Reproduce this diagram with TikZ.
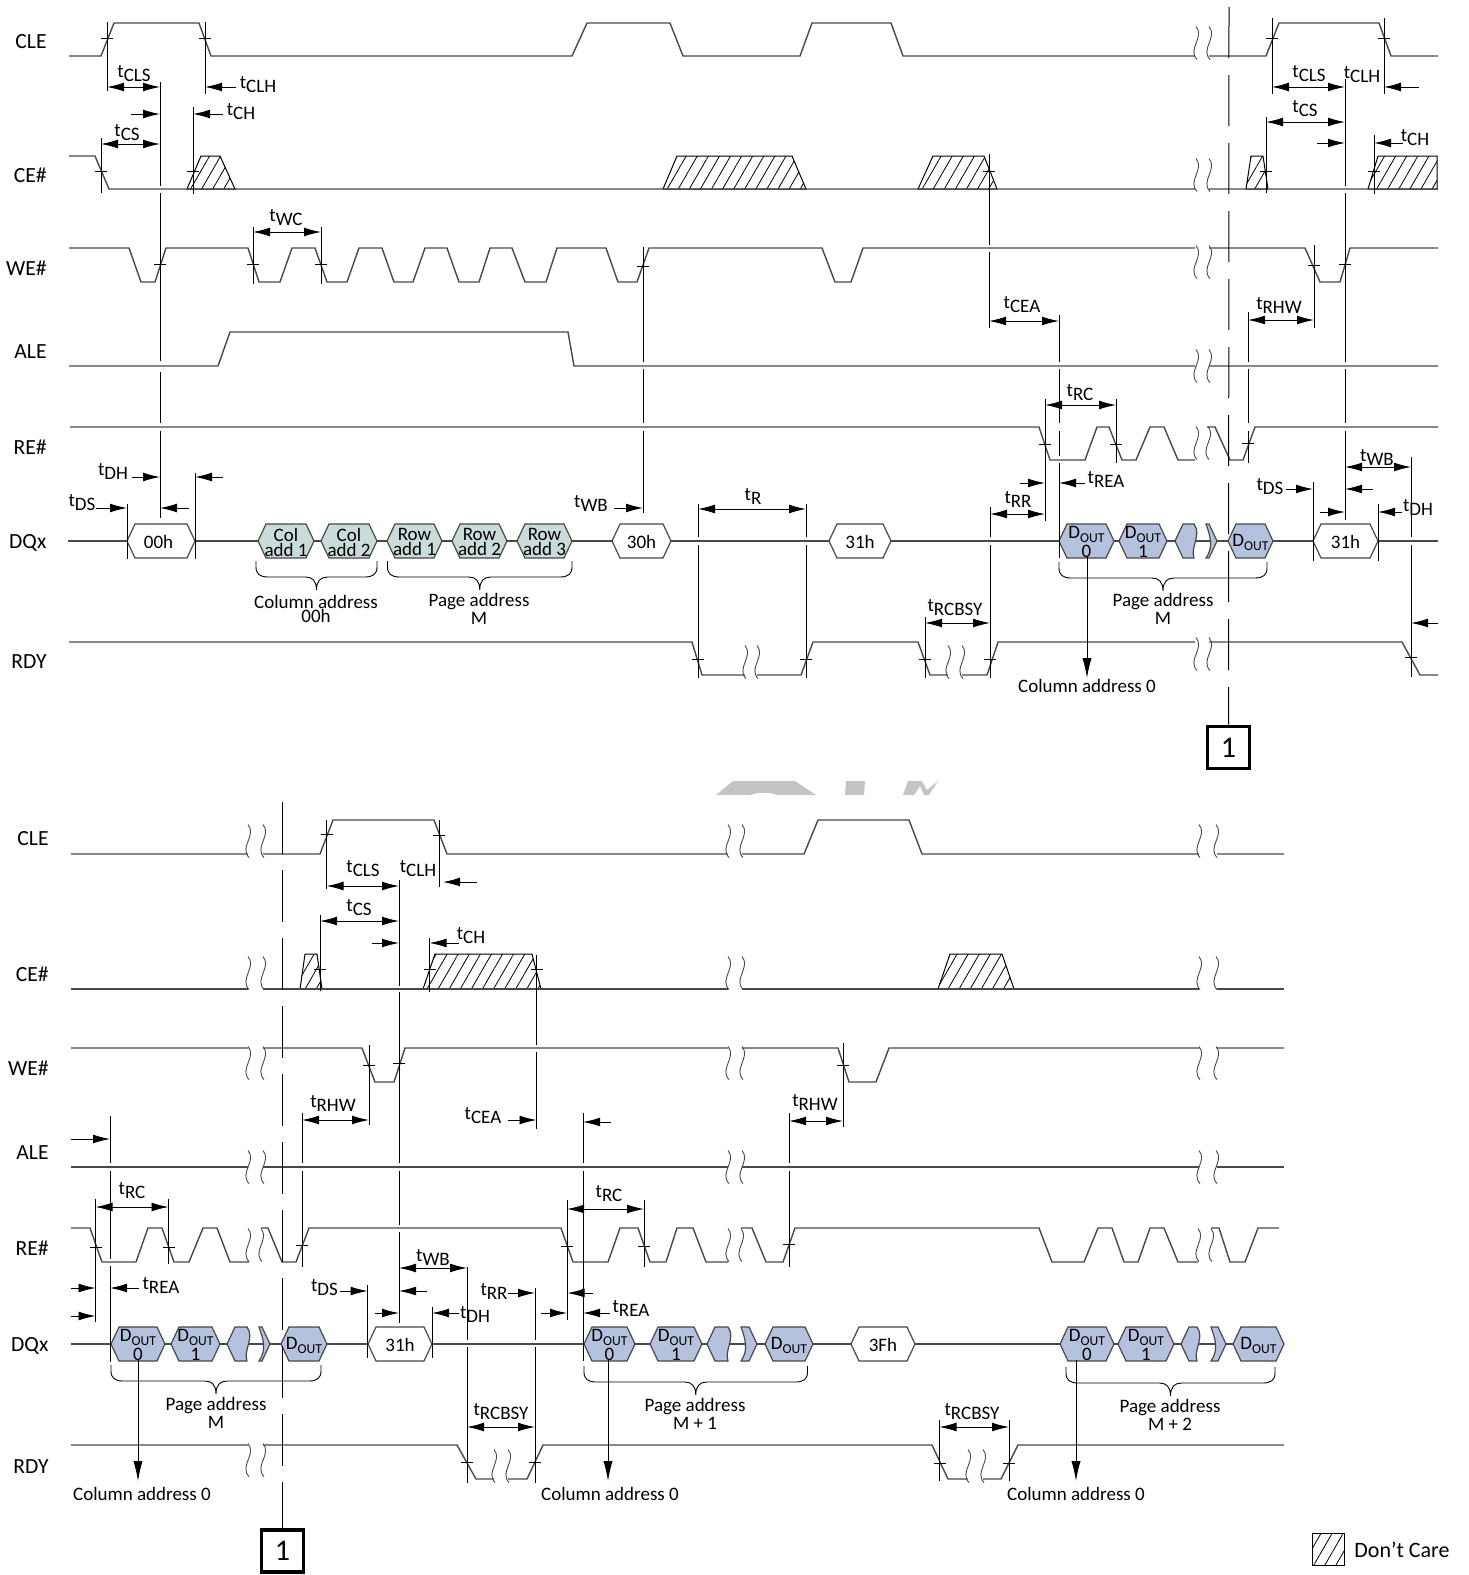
\documentclass[tikz,border=0pt]{standalone}
\usepackage{fontspec}
\setmainfont{Carlito}
\usepackage{tikz}
\usetikzlibrary{arrows.meta}
\usetikzlibrary{patterns.meta}
\definecolor{sigline}{HTML}{484848}
\definecolor{hexteal}{HTML}{C9DCDA}
\definecolor{hexblue}{HTML}{B4C2DD}
\definecolor{markgray}{HTML}{C4C4C4}
\tikzset{
  every node/.style={inner sep=0pt,align=center,font=\fontsize{9.5}{7.3}\selectfont},
  sig/.style={draw=sigline,line width=.7pt},
  guide/.style={draw=black,line width=.45pt},
  cutline/.style={draw=black,line width=.5pt},
  siglabel/.style={anchor=east,font=\fontsize{10.8}{12}\selectfont},
  hexbox/.style={draw=sigline,line width=.6pt,fill=white},
  hextext/.style={font=\fontsize{9.5}{7.5}\selectfont},
  dbox/.style={draw=sigline,line width=.6pt,fill=hexblue},
  abox/.style={draw=sigline,line width=.6pt,fill=hexteal},
  dontcare/.style={draw=black,line width=.5pt,pattern={Lines[angle=60,distance=4.8pt,line width=.4pt]}},
  wave/.style={draw=sigline,line width=.45pt},
  grp/.style={draw=black,line width=.45pt},
  colarr/.style={draw=black,line width=.5pt,-{Latex[length=10pt,width=4.6pt]}},
  notebox/.style={draw=black,line width=1.8pt,minimum size=21pt,fill=white,font=\fontsize{15}{15}\selectfont}
}
\newcommand{\tsub}[1]{t\lower2pt\hbox{#1}}
\newcommand{\dout}{D\lower2pt\hbox{\fontsize{6.8}{7}\selectfont OUT}}
\newcommand{\tck}[2]{\draw[guide] (#1-6,#2) -- (#1+6,#2);}
\newcommand{\brk}[3]{%
  \draw[wave] (#1,#3-16.5) .. controls (#1+9,#3-6) and (#1-9,#3+6) .. (#1+1,#3+16.5);
  \draw[wave] (#2,#3-16.5) .. controls (#2+9,#3-6) and (#2-9,#3+6) .. (#2+1,#3+16.5);}
\newcommand{\hexa}[6]{%
  \draw[#5] (#2,#4) -- (#2+8,#4-17) -- (#3-8,#4-17) -- (#3,#4) -- (#3-8,#4+17) -- (#2+8,#4+17) -- cycle;
  \node[hextext] (#1) at ({(#2+#3)/2},#4+1) {#6};}
\newcommand{\hexl}[3]{\draw[dbox] (#2-2,#3+17) -- (#1+8,#3+17) -- (#1,#3) -- (#1+8,#3-17) -- (#2-2,#3-17) .. controls (#2+6,#3-6) and (#2-6,#3+6) .. cycle;}
\newcommand{\hexr}[3]{\draw[dbox] (#1,#3-17) -- (#2-8,#3-17) -- (#2,#3) -- (#2-8,#3+17) -- (#1,#3+17) .. controls (#1+8,#3+6) and (#1+4,#3-6) .. cycle;}
\newcommand{\grpbrace}[3]{\draw[grp] (#1,#3) -- (#1,#3+6) .. controls (#1,#3+13) and (#1+4,#3+16) .. (#1+12,#3+16) -- ({(#1+#2)/2-11},#3+16) .. controls ({(#1+#2)/2-4},#3+16) and ({(#1+#2)/2},#3+20) .. ({(#1+#2)/2},#3+29) .. controls ({(#1+#2)/2},#3+20) and ({(#1+#2)/2+4},#3+16) .. ({(#1+#2)/2+11},#3+16) -- (#2-12,#3+16) .. controls (#2-4,#3+16) and (#2,#3+13) .. (#2,#3+6) -- (#2,#3);}

\begin{document}
\begin{tikzpicture}[x=.5pt,y=-.5pt,>={Latex[length=8.5pt,width=4.4pt]}]
\useasboundingbox (0,0) rectangle (1468,1575);

\fill[markgray] (716,795) -- (733,781) -- (795,781) -- (816,795) -- (777,795) .. controls (770,792) and (758,792) .. (750,795) -- cycle;
\fill[markgray] (846,781) -- (865,781) -- (864,795) -- (845,795) -- cycle;
\fill[markgray] (908,781) -- (922,781) -- (927,790) -- (938,781) -- (929,795) -- (924,795) -- (920,786) -- (914,795) -- (903,795) -- cycle;

\node[siglabel] (cleA) at (47,42) {CLE};
\node[siglabel] (ceA) at (47,175) {CE\#};
\node[siglabel] (weA) at (47,268) {WE\#};
\node[siglabel] (aleA) at (47,352) {ALE};
\node[siglabel] (reA) at (47,447) {RE\#};
\node[siglabel] (dqA) at (47,543) {DQx};
\node[siglabel] (rdyA) at (47,662) {RDY};
\node[siglabel] (cleB) at (49,839) {CLE};
\node[siglabel] (ceB) at (49,974) {CE\#};
\node[siglabel] (weB) at (49,1068) {WE\#};
\node[siglabel] (aleB) at (49,1153) {ALE};
\node[siglabel] (reB) at (49,1248) {RE\#};
\node[siglabel] (dqB) at (49,1346) {DQx};
\node[siglabel] (rdyB) at (49,1467) {RDY};

\draw[dontcare] (187,189) -- (201,156) -- (220,156) -- (235,189) -- cycle;
\draw[dontcare] (663,189) -- (677,156) -- (792,156) -- (806,189) -- cycle;
\draw[dontcare] (918,189) -- (933,156) -- (984,156) -- (997,189) -- cycle;
\draw[dontcare] (1246,189) -- (1251,156) -- (1263,156) -- (1268,189) -- cycle;
\draw[dontcare] (1368,189) -- (1378,156) -- (1437,156) -- (1437,189) -- cycle;
\draw[dontcare] (300,989) -- (305,954) -- (317,954) -- (322,989) -- cycle;
\draw[dontcare] (423,989) -- (435,954) -- (532,954) -- (541,989) -- cycle;
\draw[dontcare] (938,989) -- (950,954) -- (1002,954) -- (1014,989) -- cycle;

\draw[sig] (69,56) -- (101,56) -- (114,23) -- (199,23) -- (211,56) -- (572,56) -- (587,23) -- (670,23) -- (683,56) -- (800,56) -- (812,23) -- (891,23) -- (903,56) -- (1195,56) (1209,56) -- (1266,56) -- (1279,23) -- (1379,23) -- (1391,56) -- (1438,56);
\draw[sig] (69,156) -- (95,156) -- (109,189) -- (1195,189) (1209,189) -- (1438,189);
\draw[sig] (69,248) -- (129,248) -- (141,282) -- (155,282) -- (166,248) -- (248,248) -- (259,282) -- (280,282) -- (292,248) -- (315,248) -- (327,282) -- (347,282) -- (359,248) -- (382,248) -- (394,282) -- (413,282) -- (425,248) -- (447,248) -- (459,282) -- (479,282) -- (490,248) -- (512,248) -- (525,282) -- (546,282) -- (557,248) -- (606,248) -- (618,282) -- (637,282) -- (649,248) -- (822,248) -- (835,282) -- (851,282) -- (863,248) -- (1195,248) (1209,248) -- (1305,248) -- (1320,282) -- (1340,282) -- (1350,248) -- (1438,248);
\draw[sig] (69,366) -- (218,366) -- (230,332) -- (568,332) -- (574,366) -- (1195,366) (1209,366) -- (1438,366);
\draw[sig] (70,427) -- (1039,427) -- (1050,460) -- (1085,460) -- (1097,427) -- (1109,427) -- (1122,460) -- (1136,460) -- (1150,427) -- (1164,427) -- (1178,460) -- (1195,460) (1207,427) -- (1215,427) -- (1230,460) -- (1243,460) -- (1255,427) -- (1438,427);
\draw[sig] (69,642) -- (692,642) -- (702,675) -- (745,675) (757,675) -- (801,675) -- (813,642) -- (918,642) -- (930,675) -- (948,675) (962,675) -- (987,675) -- (998,642) -- (1195,642) (1209,642) -- (1402,642) -- (1420,675) -- (1438,675);

\draw[sig] (71,854) -- (248,854) (263,854) -- (320,854) -- (333,820) -- (434,820) -- (447,854) -- (728,854) (742,854) -- (804,854) -- (818,820) -- (909,820) -- (922,854) -- (1199,854) (1217,854) -- (1284,854);
\draw[sig] (71,989) -- (248,989) (263,989) -- (728,989) (742,989) -- (1199,989) (1217,989) -- (1284,989);
\draw[sig] (71,1048) -- (248,1048) (263,1048) -- (362,1048) -- (375,1082) -- (394,1082) -- (405,1048) -- (728,1048) (742,1048) -- (838,1048) -- (849,1082) -- (876,1082) -- (889,1048) -- (1199,1048) (1217,1048) -- (1284,1048);
\draw[sig] (71,1167) -- (248,1167) (263,1167) -- (728,1167) (742,1167) -- (1199,1167) (1217,1167) -- (1284,1167);
\draw[sig] (71,1228) -- (90,1228) -- (102,1262) -- (136,1262) -- (148,1228) -- (162,1228) -- (174,1262) -- (189,1262) -- (203,1228) -- (217,1228) -- (230,1262) -- (249,1262) (261,1228) -- (268,1228) -- (282,1262) -- (296,1262) -- (309,1228) -- (561,1228) -- (573,1262) -- (608,1262) -- (620,1228) -- (638,1228) -- (650,1262) -- (666,1262) -- (677,1228) -- (693,1228) -- (706,1262) -- (728,1262) (741,1228) -- (752,1228) -- (766,1262) -- (783,1262) -- (795,1228) -- (1039,1228) -- (1052,1262) -- (1084,1262) -- (1098,1228) -- (1112,1228) -- (1124,1262) -- (1138,1262) -- (1150,1228) -- (1164,1228) -- (1178,1262) -- (1198,1262) (1211,1228) -- (1219,1228) -- (1230,1262) -- (1245,1262) -- (1258,1228) -- (1279,1228);
\draw[sig] (71,1445) -- (248,1445) (263,1445) -- (457,1445) -- (476,1479) -- (494,1479) (508,1479) -- (527,1479) -- (543,1445) -- (932,1445) -- (948,1479) -- (968,1479) (983,1479) -- (1001,1479) -- (1018,1445) -- (1284,1445);

\brk{1196}{1209}{43}
\brk{1196}{1209}{175}
\brk{1196}{1209}{262}
\brk{1196}{1209}{366}
\brk{1196}{1208}{443}
\brk{1196}{1209}{654}
\brk{745}{757}{662}
\brk{948}{962}{662}
\brk{248}{263}{841}
\brk{248}{263}{973}
\brk{248}{263}{1063}
\brk{248}{263}{1167}
\brk{248}{261}{1245}
\brk{248}{263}{1460}
\brk{494}{508}{1466}
\brk{968}{983}{1466}
\brk{728}{742}{841}
\brk{728}{742}{973}
\brk{728}{742}{1063}
\brk{728}{742}{1167}
\brk{728}{741}{1245}
\brk{1199}{1216}{841}
\brk{1199}{1216}{973}
\brk{1199}{1216}{1063}
\brk{1199}{1216}{1167}
\brk{1198}{1211}{1245}

\draw[sig,line width=.55pt] (68,541) -- (1438,541);
\draw[sig,line width=.55pt] (71,1344) -- (1284,1344);

\hexa{hxA}{127}{195}{541}{hexbox}{00h\hspace{2.5pt}}
\hexa{colA}{258}{314}{541}{abox}{Col\\add 1}
\hexa{colB}{321}{377}{541}{abox}{Col\\add 2}
\hexa{rowA}{387}{442}{541}{abox}{Row\\add 1}
\hexa{rowB}{452}{507}{541}{abox}{Row\\add 2}
\hexa{rowC}{517}{572}{541}{abox}{Row\\add 3}
\hexa{hxB}{612}{671}{541}{hexbox}{30h}
\hexa{hxC}{829}{891}{541}{hexbox}{31h}
\hexa{daA}{1059}{1114}{541}{dbox}{\dout\\0}
\hexa{daB}{1119}{1167}{541}{dbox}{\dout\\1}
\hexl{1175}{1196}{541}
\hexr{1206}{1217}{541}
\hexa{daC}{1228}{1273}{541}{dbox}{\dout}
\hexa{hxD}{1313}{1378}{541}{hexbox}{31h}
\hexa{dbA}{111}{165}{1344}{dbox}{\dout\\0}
\hexa{dbB}{171}{220}{1344}{dbox}{\dout\\1}
\hexl{227}{249}{1344}
\hexr{259}{270}{1344}
\hexa{dbC}{281}{327}{1344}{dbox}{\dout}
\hexa{hxE}{368}{432}{1344}{hexbox}{31h}
\hexa{dcA}{584}{635}{1344}{dbox}{\dout\\0}
\hexa{dcB}{650}{702}{1344}{dbox}{\dout\\1}
\hexl{707}{730}{1344}
\hexr{741}{757}{1344}
\hexa{dcC}{765}{813}{1344}{dbox}{\dout}
\hexa{hxF}{851}{915}{1344}{hexbox}{3Fh}
\hexa{ddA}{1060}{1114}{1344}{dbox}{\dout\\0}
\hexa{ddB}{1118}{1174}{1344}{dbox}{\dout\\1}
\hexl{1181}{1199}{1344}
\hexr{1211}{1226}{1344}
\hexa{ddC}{1233}{1284}{1344}{dbox}{\dout}

\draw[guide] (107,22) -- (107,91);
\draw[guide] (205,22) -- (205,94);
\draw[guide] (160,82) -- (160,186) (160,193) -- (160,361) (160,372) -- (160,423) (160,431) -- (160,518);
\draw[guide] (101,138) -- (101,193);
\draw[guide] (193,107) -- (193,194);
\draw[guide] (253,227) -- (253,284);
\draw[guide] (321,227) -- (321,284);
\draw[guide] (643,247) -- (643,362) (643,369) -- (643,423) (643,431) -- (643,513);
\draw[guide] (127,504) -- (127,559);
\draw[guide] (195,473) -- (195,559);
\draw[guide] (698,504) -- (698,537) (698,545) -- (698,678);
\draw[guide] (806,504) -- (806,537) (806,545) -- (806,678);
\draw[guide] (925,617) -- (925,678);
\draw[guide] (989,154) -- (989,245) (989,252) -- (989,328);
\draw[guide] (1059,315) -- (1059,362) (1059,369) -- (1059,423) (1059,431) -- (1059,456) (1059,463) -- (1059,558);
\draw[guide] (1045,399) -- (1045,521);
\draw[guide] (1116,399) -- (1116,463);
\draw[guide] (990,507) -- (990,537) (990,545) -- (990,678);
\draw[guide] (1248,312) -- (1248,362) (1248,369) -- (1248,423) (1248,431) -- (1248,463);
\draw[guide] (1266,117) -- (1266,193);
\draw[guide] (1272,18) -- (1272,94);
\draw[guide] (1384,18) -- (1384,94);
\draw[guide] (1374,135) -- (1374,194);
\draw[guide] (1345,79) -- (1345,186) (1345,193) -- (1345,362) (1345,369) -- (1345,423) (1345,431) -- (1345,520);
\draw[guide] (1314,245) -- (1314,328);
\draw[guide] (1313,482) -- (1313,561);
\draw[guide] (1378,504) -- (1378,561);
\draw[guide] (1411,457) -- (1411,537) (1411,545) -- (1411,677);

\draw[guide] (326.5,820) -- (326.5,889);
\draw[guide] (439,820) -- (439,887);
\draw[guide] (399,880) -- (399,986) (399,992) -- (399,1163) (399,1171) -- (399,1225) (399,1232) -- (399,1323);
\draw[guide] (320,915) -- (320,991);
\draw[guide] (429.5,938) -- (429.5,992);
\draw[guide] (536.5,955) -- (536.5,1045) (536.5,1052) -- (536.5,1129);
\draw[guide] (369,1045) -- (369,1125);
\draw[guide] (843,1043) -- (843,1127);
\draw[guide] (302,1113) -- (302,1163) (302,1171) -- (302,1267);
\draw[guide] (789,1113) -- (789,1163) (789,1171) -- (789,1267);
\draw[guide] (583,1113) -- (583,1163) (583,1171) -- (583,1361);
\draw[guide] (110,1116) -- (110,1163) (110,1171) -- (110,1259) (110,1266) -- (110,1362);
\draw[guide] (95.5,1199) -- (95.5,1322);
\draw[guide] (168.5,1199) -- (168.5,1264);
\draw[guide] (567,1200) -- (567,1320);
\draw[guide] (644,1200) -- (644,1267);
\draw[guide] (367.6,1285) -- (367.6,1358);
\draw[guide] (432,1307) -- (432,1358);
\draw[guide] (467,1267) -- (467,1340) (467,1347) -- (467,1483);
\draw[guide] (535,1288) -- (535,1340) (535,1347) -- (535,1483);
\draw[guide] (939.5,1420) -- (939.5,1481);
\draw[guide] (1009,1420) -- (1009,1481);

\tck{107}{38} \tck{205}{38} \tck{101}{171} \tck{193}{171} \tck{160}{264} \tck{253}{264} \tck{321}{264} \tck{643}{266}
\tck{989}{171} \tck{1266}{171} \tck{1374}{171} \tck{1272}{38} \tck{1384}{38} \tck{1314}{265} \tck{1345}{264}
\tck{1045}{444} \tck{1116}{444} \tck{1248}{443} \tck{698}{659} \tck{806}{659} \tck{925}{659} \tck{990}{659} \tck{1411}{657}
\tck{326.5}{834} \tck{439}{835} \tck{320}{969} \tck{429.5}{969} \tck{536.5}{969} \tck{369}{1065} \tck{399}{1063} \tck{843}{1065}
\tck{96}{1247} \tck{168.5}{1247} \tck{302}{1245} \tck{567}{1246} \tck{644}{1246} \tck{789}{1244}
\tck{467}{1462} \tck{535}{1462} \tck{939.5}{1463} \tck{1009}{1463}

\draw[guide,<->] (107,87) -- (160,87);
\draw[guide,->] (236,87) -- (205,87);
\draw[guide,->] (131,114) -- (160,114);
\draw[guide,->] (223,114) -- (193,114);
\draw[guide,<->] (101,144) -- (160,144);
\draw[guide,<->] (253,232) -- (321,232);
\draw[guide,->] (132,477) -- (160,477);
\draw[guide,->] (223,477) -- (195,477);
\draw[guide,->] (96,508) -- (127,508);
\draw[guide,->] (189,508) -- (160,508);
\draw[guide,->] (614,508) -- (643,508);
\draw[guide,<->] (698,509) -- (806,509);
\draw[guide,<->] (925,623) -- (990,623);
\draw[guide,<->] (989,321) -- (1059,321);
\draw[guide,<->] (1045,405) -- (1116,405);
\draw[guide,->] (1020,483) -- (1045,483);
\draw[guide,->] (1085,483) -- (1059,483);
\draw[guide,<->] (990,514) -- (1045,514);
\draw[guide,<->] (1248,320) -- (1314,320);
\draw[guide,<->] (1272,87) -- (1345,87);
\draw[guide,->] (1419,87) -- (1384,87);
\draw[guide,<->] (1266,122) -- (1345,122);
\draw[guide,->] (1317,143) -- (1345,143);
\draw[guide,->] (1403,143) -- (1374,143);
\draw[guide,<->] (1345,467) -- (1411,467);
\draw[guide,->] (1373,489) -- (1345,489);
\draw[guide,->] (1286,489) -- (1313,489);
\draw[guide,->] (1320,512) -- (1345,512);
\draw[guide,->] (1402,512) -- (1378,512);
\draw[guide,->] (1438,623) -- (1411,623);

\draw[guide,<->] (326.5,886) -- (399,886);
\draw[guide,->] (477,882) -- (443,882);
\draw[guide,<->] (320,921) -- (399,921);
\draw[guide,->] (372,943) -- (399,943);
\draw[guide,->] (458.5,943) -- (429.5,943);
\draw[guide,<->] (302,1120) -- (369,1120);
\draw[guide,->] (508,1120) -- (536.5,1120);
\draw[guide,->] (611,1122) -- (583,1122);
\draw[guide,<->] (789,1121) -- (843,1121);
\draw[guide,->] (71,1139) -- (110,1139);
\draw[guide,<->] (95.5,1207) -- (168.5,1207);
\draw[guide,->] (71,1288) -- (95.5,1288);
\draw[guide,->] (139,1288) -- (110,1288);
\draw[guide,->] (71,1316) -- (95.5,1316);
\draw[guide,<->] (567,1209) -- (644,1209);
\draw[guide,->] (592.5,1293) -- (567.5,1293);
\draw[guide,->] (541,1313) -- (567,1313);
\draw[guide,->] (610,1313) -- (583,1313);
\draw[guide,<->] (399,1268) -- (467,1268);
\draw[guide,->] (427,1291) -- (399,1291);
\draw[guide,->] (375,1313) -- (399,1313);
\draw[guide,->] (340,1291) -- (367.6,1291);
\draw[guide,->] (458.5,1313) -- (432,1313);
\draw[guide,->] (508,1293) -- (535,1293);
\draw[guide,<->] (467,1427) -- (535,1427);
\draw[guide,<->] (939.5,1427) -- (1009,1427);

\node (tclsA) at (134,74) {\tsub{CLS}};
\node (tclhA) at (258,85) {\tsub{CLH}};
\node (tchA) at (241,112) {\tsub{CH}};
\node (tcsA) at (127,133) {\tsub{CS}};
\node (twcA) at (286,218) {\tsub{WC}};
\node (tdhA) at (113,471) {\tsub{DH}};
\node (tdsA) at (82,503) {\tsub{DS}};
\node (twbA) at (591,503) {\tsub{WB}};
\node (trA) at (753,496) {\tsub{R}};
\node (tceaA) at (1022,305) {\tsub{CEA}};
\node (trcA) at (1080,393) {\tsub{RC}};
\node (treaA) at (1106,479) {\tsub{REA}};
\node (trrA) at (1018,499) {\tsub{RR}};
\node (tbsyA) at (955,608) {\tsub{RCBSY}};
\node (trhwA) at (1279,305) {\tsub{RHW}};
\node (tclsB) at (1309,74) {\tsub{CLS}};
\node (tclhB) at (1362,75) {\tsub{CLH}};
\node (tcsB) at (1305,109) {\tsub{CS}};
\node (tchB) at (1415,138) {\tsub{CH}};
\node (twbB) at (1377,457) {\tsub{WB}};
\node (tdsB) at (1270,487) {\tsub{DS}};
\node (tdhB) at (1418,507) {\tsub{DH}};

\node (tclsC) at (363,869) {\tsub{CLS}};
\node (tclhC) at (418,869) {\tsub{CLH}};
\node (tcsC) at (359,908) {\tsub{CS}};
\node (tchC) at (471,936) {\tsub{CH}};
\node (trhwC) at (333,1103) {\tsub{RHW}};
\node (tceaC) at (483,1116) {\tsub{CEA}};
\node (trhwD) at (815,1102) {\tsub{RHW}};
\node (trcC) at (132,1191) {\tsub{RC}};
\node (treaC) at (161,1285) {\tsub{REA}};
\node (tdsC) at (324.5,1288) {\tsub{DS}};
\node (twbC) at (433,1257) {\tsub{WB}};
\node (trrC) at (494,1291) {\tsub{RR}};
\node (tdhC) at (475,1314) {\tsub{DH}};
\node (trcD) at (609,1194) {\tsub{RC}};
\node (treaD) at (631,1308) {\tsub{REA}};
\node (tbsyC) at (501,1412) {\tsub{RCBSY}};
\node (tbsyD) at (972,1412) {\tsub{RCBSY}};

\grpbrace{256}{377}{561}
\grpbrace{387.5}{572}{561}
\grpbrace{1059}{1267}{562}
\grpbrace{111}{321}{1365}
\grpbrace{584}{807.5}{1366}
\grpbrace{1066}{1275}{1367}

\node (grpA) at (316,609) {Column address\\00h};
\node (grpB) at (479,609) {Page address\\M};
\node (grpC) at (1163,609) {Page address\\M};
\node (grpD) at (216,1413) {Page address\\M};
\node (grpE) at (695,1414) {Page address\\M + 1};
\node (grpF) at (1170,1415) {Page address\\M + 2};

\node (addrA) at (1087,686) {Column address 0};
\node (addrB) at (142,1494) {Column address 0};
\node (addrC) at (610,1494) {Column address 0};
\node (addrD) at (1076,1494) {Column address 0};
\coordinate (srcA) at (1087,557);
\coordinate (srcB) at (138,1360);
\coordinate (srcC) at (608,1360);
\coordinate (srcD) at (1076,1360);
\draw[colarr] (srcA) -- (1087,678);
\draw[colarr] (srcB) -- (138,1481);
\draw[colarr] (srcC) -- (608,1481);
\draw[colarr] (srcD) -- (1076,1481);

\node[notebox] (noteA) at (1228.5,747.5) {1};
\node[notebox] (noteB) at (282.5,1551) {1};
\coordinate (cutA) at (1229,7);
\coordinate (cutB) at (282.5,802);
\draw[cutline,dash pattern=on 25.5pt off 8.5pt] (cutA) -- (noteA);
\draw[cutline,dash pattern=on 26pt off 8pt] (cutB) -- (noteB);

\draw[dontcare] (1312.5,1533) rectangle (1344,1565);
\node[anchor=west,font=\fontsize{11}{12}\selectfont] (careA) at (1354,1550) {Don't Care};
\end{tikzpicture}
\end{document}
